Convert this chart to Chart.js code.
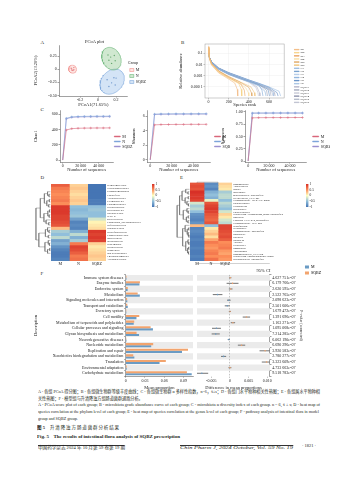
<!DOCTYPE html>
<html lang="zh"><head><meta charset="utf-8">
<script src="https://cdn.jsdelivr.net/npm/chart.js@4/dist/chart.umd.min.js"></script>
<style>
html,body{margin:0;padding:0;background:#fff}
body{width:357px;height:480px;position:relative;overflow:hidden;font-family:"Liberation Serif","Noto Sans CJK SC",serif;color:#231f20}
canvas{position:absolute}
.t{position:absolute;white-space:nowrap;line-height:1;transform-origin:0 0}
.pl{font-size:5px}
.zh{font-size:4.6px}
.en{font-size:3.9px}
.ft{font-size:4.6px;font-weight:bold}
.ff{font-size:4.4px;border-top:0.5px solid #333;padding-top:0.6px}
</style></head><body>
<div class="t pl" style="left:40.5px;top:40px">A</div>
<div class="t pl" style="left:181px;top:40px">B</div>
<div class="t pl" style="left:40.5px;top:106.5px">C</div>
<div class="t pl" style="left:40.5px;top:175px">D</div>
<div class="t pl" style="left:180px;top:175px">E</div>
<div class="t pl" style="left:40.5px;top:270.5px">F</div>

<div class="t zh fit" id="zh1" data-w="282" style="left:38px;top:390px">A - 各组 PCoA 得分图；B - 各组微生物群等级丰度曲线；C - 各组微生物群 α 多样性指数，n=6，x̄±s；D - 各组门水平物种相关性热图；E - 各组属水平物种相</div>
<div class="t zh" data-ref="zh1" style="left:38px;top:397px">关性热图；F - 模型组与升清降浊方组肠道菌群通路分析。</div>
<div class="t en fit" id="en1" data-w="282" style="left:38px;top:404.3px">A - PCoA score plot of each group; B - microbiota grade abundance curve of each group; C - microbiota α diversity index of each group. n = 6, x̄ ± s; D - heat map of</div>
<div class="t en fit" id="en2" data-w="281" style="left:38px;top:410.8px">species correlation at the phylum level of each group; E - heat map of species correlation at the genus level of each group; F - pathway analysis of intestinal flora in model</div>
<div class="t en" data-ref="en2" style="left:38px;top:417.8px">group and SQBZ group.</div>
<div class="t ft fit" id="tz" data-w="83" style="left:37px;top:426px">图 5 <span style="font-weight:normal;letter-spacing:0.9px;margin-left:4px">升清降浊方肠道菌群分析结果</span></div>
<div class="t ft fit" id="te" data-w="143" style="left:37px;top:434.8px">Fig. 5 <span style="margin-left:3px">The results of intestinal flora analysis of SQBZ prescription</span></div>
<div class="t ff fit" id="fl" data-w="87" style="left:38px;top:444.5px">中国药学杂志 2024 年 10 月第 59 卷第 19 期</div>
<div class="t ff fit" id="fr" data-w="113" style="left:180px;top:444.5px;font-style:italic">Chin Pharm J, 2024 October, Vol. 59 No. 19</div>
<div class="t" style="left:302px;top:443.5px;font-size:4.4px">· 1821 ·</div>

<script>
// ===================== DATA =====================
const groups = ['M', 'N', 'SQBZ'];

// A: PCoA sample coordinates
const aMx = [-0.30, -0.27, -0.29, -0.27, -0.295, -0.28];
const aMy = [0.02, 0.03, -0.02, -0.01, 0.005, -0.025];
const aNx = [0.11, 0.18, 0.12, 0.19, 0.15, 0.14];
const aNy = [0.27, 0.26, 0.17, 0.16, 0.11, 0.23];
const aSx = [0.10, 0.20, 0.15, 0.19, 0.12, 0.176];
const aSy = [-0.20, -0.17, -0.26, -0.30, -0.33, -0.162];
const aXTicks = [-0.2, 0, 0.2];
const aXLabels = ['-0.2', '0', '0.2'];
const aYTicks = [-0.5, -0.25, 0, 0.25];
const aYLabels = ['-0.50', '-0.25', '0', '0.25'];
const aFcrit = 5.786; // F(0.95; 2, 5) for 95% ellipse, n = 6

// B: rank abundance curves [rank, relative abundance]
const bNames = ['M1','M2','M3','M4','M5','M6','N1','N2','N3','N4','N5','N6','SQBZ1','SQBZ2','SQBZ3','SQBZ4','SQBZ5','SQBZ6'];
const bM1 = [[1,0.42],[3,0.09],[10,0.03],[30,0.009],[100,0.0018],[200,0.0005],[260,0.00022],[285,0.00006],[290,0.000015]];
const bM2 = [[1,0.35],[3,0.11],[10,0.035],[30,0.011],[100,0.0022],[200,0.0006],[300,0.0002],[325,0.00006],[330,0.000015]];
const bM3 = [[1,0.30],[3,0.10],[10,0.04],[30,0.012],[100,0.0025],[200,0.0007],[320,0.00018],[355,0.00005],[362,0.000015]];
const bM4 = [[1,0.38],[3,0.12],[10,0.032],[30,0.010],[100,0.0020],[200,0.00065],[300,0.00025],[370,0.00008],[395,0.00003],[400,0.000015]];
const bM5 = [[1,0.28],[3,0.09],[10,0.038],[30,0.013],[100,0.0028],[200,0.0008],[300,0.0003],[400,0.00009],[425,0.00003],[430,0.000015]];
const bM6 = [[1,0.33],[3,0.10],[10,0.036],[30,0.012],[100,0.0026],[200,0.00085],[300,0.00032],[420,0.0001],[455,0.00003],[460,0.000015]];
const bN1 = [[1,0.20],[3,0.08],[10,0.04],[30,0.015],[100,0.004],[200,0.0014],[300,0.0006],[400,0.00028],[500,0.00012],[560,0.00004],[570,0.000015]];
const bN2 = [[1,0.22],[3,0.09],[10,0.042],[30,0.016],[100,0.0042],[200,0.0015],[300,0.0007],[400,0.00033],[500,0.00016],[590,0.00006],[605,0.000015]];
const bN3 = [[1,0.18],[3,0.07],[10,0.038],[30,0.017],[100,0.0045],[200,0.0017],[300,0.0008],[400,0.00038],[500,0.00019],[600,0.00008],[640,0.00003],[645,0.000015]];
const bN4 = [[1,0.25],[3,0.085],[10,0.036],[30,0.014],[100,0.0038],[200,0.0013],[300,0.0006],[400,0.0003],[500,0.00014],[530,0.00005],[540,0.000015]];
const bN5 = [[1,0.19],[3,0.075],[10,0.04],[30,0.018],[100,0.005],[200,0.0019],[300,0.0009],[400,0.00042],[500,0.0002],[600,0.00009],[680,0.00003],[690,0.000015]];
const bN6 = [[1,0.21],[3,0.08],[10,0.041],[30,0.016],[100,0.0046],[200,0.0018],[300,0.00085],[400,0.0004],[500,0.00021],[600,0.0001],[700,0.00004],[715,0.000015]];
const bS1 = [[1,0.24],[3,0.09],[10,0.04],[30,0.015],[100,0.0041],[200,0.0014],[300,0.00062],[400,0.0003],[480,0.0001],[505,0.00003],[510,0.000015]];
const bS2 = [[1,0.20],[3,0.085],[10,0.043],[30,0.017],[100,0.0046],[200,0.0016],[300,0.00075],[400,0.00035],[500,0.00016],[575,0.00005],[585,0.000015]];
const bS3 = [[1,0.27],[3,0.10],[10,0.038],[30,0.014],[100,0.0037],[200,0.0013],[300,0.00058],[400,0.00026],[470,0.00009],[490,0.00003],[495,0.000015]];
const bS4 = [[1,0.19],[3,0.08],[10,0.042],[30,0.018],[100,0.0048],[200,0.0018],[300,0.00082],[400,0.00038],[500,0.00018],[600,0.00007],[655,0.00003],[660,0.000015]];
const bS5 = [[1,0.23],[3,0.09],[10,0.04],[30,0.016],[100,0.0043],[200,0.0015],[300,0.0007],[400,0.00032],[500,0.00014],[610,0.00005],[620,0.000015]];
const bS6 = [[1,0.21],[3,0.082],[10,0.041],[30,0.017],[100,0.0047],[200,0.0017],[300,0.0008],[400,0.00037],[500,0.00017],[600,0.00008],[630,0.00003],[640,0.000015]];
const bSeries = [bM1,bM2,bM3,bM4,bM5,bM6,bN1,bN2,bN3,bN4,bN5,bN6,bS1,bS2,bS3,bS4,bS5,bS6];
const bXTicks = [0, 200, 400, 600];
const bYTicks = [0.1, 0.01, 0.001, 0.0001];
const bYLabels = ['0.1', '0.01', '0.001', '0.000 1'];

// C: alpha diversity rarefaction
const cX = [0, 4000, 10000, 17000, 24000, 31000, 38000, 45000, 52000];
const chaoM = [0, 395, 412, 417, 419, 420, 421, 421, 422];
const chaoN = [0, 548, 566, 571, 573, 574, 575, 575, 576];
const chaoS = [0, 541, 560, 565, 567, 568, 569, 569, 570];
const shanM = [0, 4.82, 4.86, 4.87, 4.88, 4.88, 4.89, 4.89, 4.89];
const shanN = [0, 6.30, 6.33, 6.34, 6.35, 6.35, 6.35, 6.36, 6.36];
const shanS = [0, 6.24, 6.27, 6.28, 6.29, 6.29, 6.30, 6.30, 6.30];
const simpM = [0, 0.880, 0.884, 0.885, 0.886, 0.886, 0.886, 0.887, 0.887];
const simpN = [0, 0.978, 0.979, 0.979, 0.980, 0.980, 0.980, 0.980, 0.980];
const simpS = [0, 0.974, 0.976, 0.976, 0.977, 0.977, 0.977, 0.977, 0.977];
const cXTicks = [0, 20000, 40000];
const cXLabels = ['0', '20 000', '40 000'];

// D: phylum-level correlation heatmap
const dRows = ['Planctomycetota','Verrucomicrobiota','Gemmatimonadota','Chloroflexi','Acidobacteriota','Cyanobacteria','Elusimicrobiota','Patescibacteria','Proteobacteria','Halobacterota','WPS-2','Myxococcota','Candidatus_Saccharibacteria','Deferribacterota','Fusobacteriota','Desulfobacterota','Campylobacterota','Bacteroidota','Spirochaetota','Synergistota','Deinococcota','Firmicutes','Bdellovibrionota','Thermoplasmatota','Actinobacteriota'];
const dM = [0.75,0.6,0.55,0.5,0.55,0.6,0.5,0.95,0.95,0.95,0.9,0.9,0.85,0.8,0.3,-0.4,-0.5,-0.3,-0.7,-0.6,-0.8,-0.9,-0.95,-0.95,-0.9];
const dN = [0.2,0.25,0.2,0.15,0.2,0.25,0.2,-0.5,-0.55,-0.5,-0.45,-0.7,-0.9,-0.85,-0.9,-0.6,-0.3,-0.6,-0.4,0.6,0.9,0.85,0.75,0.6,0.65];
const dS = [-1,-1,-1,-1,-1,-0.95,-0.95,-0.5,-0.45,-0.5,-0.5,-0.2,0.05,0.1,0.15,0.95,0.9,0.95,0.9,0.2,0.1,0.15,0.2,0.25,0.2];
const dRowTree = {h:1,c:[{h:0.7,c:[
  {h:0.42,c:[{h:0.2,c:[0,{h:0.1,c:[1,2]}]},{h:0.25,c:[{h:0.08,c:[3,4]},{h:0.12,c:[5,6]}]}]},
  {h:0.45,c:[{h:0.18,c:[{h:0.06,c:[7,8]},{h:0.09,c:[9,10]}]},{h:0.3,c:[11,{h:0.12,c:[12,13]}]}]}]},
  {h:0.8,c:[
  {h:0.35,c:[{h:0.2,c:[14,{h:0.1,c:[15,16]}]},{h:0.15,c:[17,18]}]},
  {h:0.38,c:[{h:0.15,c:[19,{h:0.07,c:[20,21]}]},{h:0.2,c:[{h:0.05,c:[22,23]},24]}]}]}]};
const dColTree = {h:1,c:[{h:0.45,c:[0,1]},2]};

// E: genus-level correlation heatmap
const eRows = ['Ruminococcus','Alloprevotella','Blautia','Bacteroides','Muribaculaceae_unclassified','Prevotellaceae_UCG-001','Lachnospiraceae_NK4A136_group','Parabacteroides','Lactobacillus','Oscillibacter','Colidextribacter','Eubacterium_xylanophilum_group_unclassified','Roseburia','Clostridia_UCG-014_unclassified','Lachnospiraceae_UCG-006','Desulfovibrio','Helicobacter','Lachnospiraceae_unclassified','Odoribacter','Rikenella','Dubosiella','Alistipes','Turicibacter','Romboutsia','Akkermansia','Ruminococcaceae_UCG-014','Eubacterium_coprostanoligenes_group','Oscillospiraceae_unclassified'];
const eM = [0.8,0.85,0.8,1,0.95,0.95,0.9,-0.2,-0.4,-0.3,-0.5,-0.8,-0.85,-0.9,-0.8,0.3,-0.9,-0.85,-0.9,-0.95,-0.9,-0.95,-0.95,-0.9,-0.95,-0.95,-0.9,-0.95];
const eN = [-0.85,-0.8,-0.9,-0.6,-0.5,-0.6,-0.1,0.8,0.9,0.95,0.9,0.8,0.75,0.7,0.8,-0.5,0.1,0.2,0.3,0.15,0.4,0.6,0.5,0.45,0.55,0.6,0.5,0.65];
const eS = [0.2,0.15,0.1,-0.4,-0.3,-0.3,-0.5,-0.3,-0.4,-0.5,-0.2,0.2,0.1,-0.2,-0.3,0.9,0.9,0.85,0.8,0.85,0.75,0.5,0.55,0.6,0.45,0.4,0.5,0.45];
const eRowTree = {h:1,c:[{h:0.8,c:[
  {h:0.6,c:[{h:0.3,c:[0,{h:0.12,c:[1,2]}]},{h:0.35,c:[{h:0.1,c:[3,4]},{h:0.2,c:[5,{h:0.08,c:[6,7]}]}]}]},
  {h:0.5,c:[{h:0.2,c:[8,{h:0.1,c:[9,10]}]},{h:0.25,c:[{h:0.1,c:[11,12]},{h:0.12,c:[13,14]}]}]}]},
  {h:0.55,c:[{h:0.35,c:[15,{h:0.18,c:[{h:0.06,c:[16,17]},{h:0.1,c:[18,{h:0.05,c:[19,20]}]}]}]},
  {h:0.3,c:[{h:0.12,c:[21,{h:0.05,c:[22,23]}]},{h:0.15,c:[{h:0.06,c:[24,25]},{h:0.08,c:[26,27]}]}]}]}]};
const eColTree = {h:1,c:[0,{h:0.5,c:[1,2]}]};
const cbTicks = [1, 0.5, 0, -0.5, -1];
const cbLabels = ['1', '0.5', '0', '-0.5', '-1'];

// F: pathway analysis (M vs SQBZ)
const fGroups = ['M', 'SQBZ'];
const fRows = ['Immune system diseases','Enzyme families','Endocrine system','Metabolism','Signaling molecules and interaction','Transport and catabolism','Excretory system','Cell motility','Metabolism of terpenoids and polyketides','Cellular processes and signaling','Glycan biosynthesis and metabolism','Neurodegenerative diseases','Nucleotide metabolism','Replication and repair','Xenobiotics biodegradation and metabolism','Translation','Environmental adaptation','Carbohydrate metabolism'];
const fM = [0.0012,0.0215,0.0030,0.0220,0.0025,0.0032,0.0010,0.0168,0.0125,0.0425,0.0208,0.0012,0.0398,0.0878,0.0135,0.0528,0.0016,0.1030];
const fS = [0.0013,0.0222,0.0032,0.0187,0.0022,0.0025,0.0010,0.0212,0.0133,0.0389,0.0170,0.0009,0.0429,0.0972,0.0118,0.0626,0.0016,0.0955];
const fD = [0.0001,0.0007,0.0002,-0.0033,-0.0003,-0.0007,0.0000,0.0044,0.0008,-0.0036,-0.0038,-0.0003,0.0031,0.0094,-0.0017,0.0098,0.0000,-0.0075];
const fCi = [0.0002,0.0015,0.0004,0.0012,0.0004,0.0006,0.0002,0.0009,0.0005,0.0011,0.0010,0.0002,0.0009,0.0014,0.0006,0.0012,0.0003,0.0016];
const fP = ['4.627 751e-07','6.179 766e-07','2.620 595e-07','2.522 765e-07','2.098 623e-07','2.501 606e-07','1.679 472e-07','1.391 696e-07','1.163 271e-07','1.095 068e-07','7.214 285e-07','6.062 190e-07','6.690 296e-07','3.920 583e-07','2.780 277e-07','3.323 609e-07','4.733 663e-07','9.518 783e-07'];
const fMeanTicks = [0, 0.03, 0.06, 0.09];
const fMeanLabels = ['0', '0.03', '0.06', '0.09'];
const fDiffTicks = [-0.005, 0, 0.005, 0.01];
const fDiffLabels = ['-0.005', '0', '0.005', '0.010'];

// ===================== STYLE / HELPERS =====================
const aLine = ['#ef7f7a', '#58ad68', '#6b9bd6'];
const aFill = ['rgba(248,165,155,0.28)', 'rgba(150,205,150,0.45)', 'rgba(160,195,235,0.45)'];
const aDot = ['#df6f78', '#3d8a4e', '#4774b4'];
const bCol = ['#f2b880','#f6cf7a','#e9a35f','#f8dc9c','#dda15a','#f0c27a',
              '#8fb3dc','#6f9acb','#a9c5e6','#7ea7d6','#5e8cc4','#9cbce0',
              '#b4b4c8','#9ea3b8','#c4c6d4','#8e94ac','#aab0c2','#bcc0cf'];
const cCol = ['#d9667b', '#7ea4da', '#9c90d0'];
const fCol = ['#6a9bc4', '#f2a46e'];
const rdylbu = ['#4575b4', '#91bfdb', '#ffffbf', '#fc8d59', '#d73027'];

Chart.defaults.font.family = '"Liberation Serif", serif';
Chart.defaults.font.size = 4;
Chart.defaults.color = '#222';
Chart.defaults.animation = false;
Chart.defaults.responsive = false;
Chart.defaults.devicePixelRatio = 1;
Chart.defaults.events = [];
Chart.defaults.plugins.tooltip.enabled = false;
Chart.defaults.plugins.legend.display = false;

Chart.register({id: 'frame', afterDatasetsDraw(chart, args, opts) {
  if (!opts || !opts.color) return;
  const a = chart.chartArea, c = chart.ctx;
  c.save(); c.strokeStyle = opts.color; c.lineWidth = opts.width || 0.5;
  c.strokeRect(a.left, a.top, a.right - a.left, a.bottom - a.top); c.restore();
}});

function mk(x, y, w, h) {
  const c = document.createElement('canvas');
  c.width = Math.round(w); c.height = Math.round(h);
  c.style.left = x + 'px'; c.style.top = y + 'px';
  c.style.width = Math.round(w) + 'px'; c.style.height = Math.round(h) + 'px';
  document.body.appendChild(c);
  return c;
}
function hex(h) { return [1,3,5].map(i => parseInt(h.substr(i,2),16)); }
function corrColor(v) {
  const t = (Math.max(-1, Math.min(1, v)) + 1) / 2 * (rdylbu.length - 1);
  const i = Math.min(Math.floor(t), rdylbu.length - 2), f = t - i;
  const a = hex(rdylbu[i]), b = hex(rdylbu[i+1]);
  return 'rgb(' + a.map((x,k) => Math.round(x + (b[k]-x)*f)).join(',') + ')';
}
const fixedTicks = (vals) => (s) => { s.ticks = vals.map(v => ({value: v})); };
const tickGrid = {display: true, drawOnChartArea: false, tickLength: 1.5, tickColor: '#444', lineWidth: 0.5};
const axBorder = {color: '#444', width: 0.5};

// ===================== A: PCoA =====================
function ellipse(xs, ys, k) {
  const n = xs.length, mx = xs.reduce((a,b)=>a+b)/n, my = ys.reduce((a,b)=>a+b)/n;
  let sxx = 0, syy = 0, sxy = 0;
  for (let i = 0; i < n; i++) { const dx = xs[i]-mx, dy = ys[i]-my; sxx += dx*dx; syy += dy*dy; sxy += dx*dy; }
  sxx /= n-1; syy /= n-1; sxy /= n-1;
  const tr = sxx+syy, det = sxx*syy - sxy*sxy, disc = Math.sqrt(Math.max(0, tr*tr/4 - det));
  const l1 = tr/2 + disc, l2 = Math.max(0, tr/2 - disc);
  const ang = Math.abs(sxy) < 1e-12 ? (sxx >= syy ? 0 : Math.PI/2) : Math.atan2(l1 - sxx, sxy);
  const pts = [];
  for (let i = 0; i <= 72; i++) {
    const t = i/72*2*Math.PI, u = k*Math.sqrt(l1)*Math.cos(t), v = k*Math.sqrt(l2)*Math.sin(t);
    pts.push({x: mx + u*Math.cos(ang) - v*Math.sin(ang), y: my + u*Math.sin(ang) + v*Math.cos(ang)});
  }
  return pts;
}
(function () {
  const xs = [aMx, aNx, aSx], ys = [aMy, aNy, aSy], k = Math.sqrt(2*aFcrit);
  new Chart(mk(33, 38, 123, 70), {
    type: 'scatter',
    data: {datasets: [
      ...groups.map((g,i) => ({label: g, data: ellipse(xs[i], ys[i], k), showLine: true, fill: 'shape',
        backgroundColor: aFill[i], borderColor: aLine[i], borderWidth: 0.5, pointRadius: 0})),
      ...groups.map((g,i) => ({label: g + ' samples', data: xs[i].map((x,j) => ({x, y: ys[i][j]})),
        pointRadius: 0.7, backgroundColor: aDot[i], borderWidth: 0}))
    ]},
    options: {
      layout: {padding: 0},
      plugins: {
        title: {display: true, text: 'PCoA plot', font: {size: 4.5, weight: 'normal'}, padding: {top: 1.5, bottom: 0.1}},
        legend: {display: true, position: 'right',
          title: {display: true, text: 'Group', position: 'start', padding: 0.6, font: {size: 4}},
          labels: {boxWidth: 4, boxHeight: 3, padding: 2, font: {size: 4},
            generateLabels: () => groups.map((g,i) => ({text: g, fillStyle: aFill[i], strokeStyle: aLine[i], lineWidth: 0.5, hidden: false, datasetIndex: i}))}}
      },
      scales: {
        x: {type: 'linear', min: -0.435, max: 0.33, afterBuildTicks: fixedTicks(aXTicks),
          ticks: {callback: (v,i) => aXLabels[i], autoSkip: false, maxRotation: 0, padding: 0.5},
          grid: tickGrid, border: axBorder,
          title: {display: true, text: 'PCoA1(71.65%)', font: {size: 4.5}, padding: 0},
          afterFit: s => { s.height = 12; }},
        y: {type: 'linear', min: -0.51, max: 0.46, afterBuildTicks: fixedTicks(aYTicks),
          ticks: {callback: (v,i) => aYLabels[i], autoSkip: false, padding: 0.8},
          grid: tickGrid, border: axBorder,
          title: {display: true, text: 'PCoA2(13.26%)', font: {size: 4.5}, padding: 0},
          afterFit: s => { s.width = 26; }}
      }
    }
  });
})();

// ===================== B: rank abundance =====================
new Chart(mk(178, 38, 139, 70), {
  type: 'line',
  data: {datasets: bSeries.map((s,i) => ({label: bNames[i], data: s.map(p => ({x: p[0], y: p[1]})),
    borderColor: bCol[i], backgroundColor: bCol[i], borderWidth: 0.6, pointRadius: 0}))},
  options: {
    layout: {padding: {top: 6}},
    plugins: {
      frame: {color: '#9a9a9a', width: 0.5},
      legend: {display: true, position: 'right', labels: {boxWidth: 5, boxHeight: 0.6, padding: 0.3, font: {size: 2.8}}}
    },
    scales: {
      x: {type: 'linear', min: -35, max: 750, afterBuildTicks: fixedTicks(bXTicks),
        ticks: {autoSkip: false, maxRotation: 0, padding: 0.5, callback: v => String(v)},
        grid: {color: '#ececec', lineWidth: 0.4, tickLength: 1.5, tickColor: '#666'}, border: {display: false},
        title: {display: true, text: 'Species rank', font: {size: 4.5}, padding: 0},
        afterFit: s => { s.height = 10; }},
      y: {type: 'logarithmic', min: 1e-5, max: 0.7, afterBuildTicks: fixedTicks(bYTicks),
        ticks: {autoSkip: false, padding: 0.8, callback: (v,i) => bYLabels[i]},
        grid: {color: '#ececec', lineWidth: 0.4, tickLength: 1.5, tickColor: '#666'}, border: {display: false},
        title: {display: true, text: 'Relative abundance', font: {size: 4.5}, padding: 0},
        afterFit: s => { s.width = 27; }},
      yPad: {type: 'linear', axis: 'y', position: 'right', ticks: {display: false}, grid: {display: false, drawTicks: false},
        border: {display: false}, afterFit: s => { s.width = 9.7; }}
    }
  }
});

// ===================== C: alpha diversity =====================
function cChart(x, w, yW, spacer, yTitle, yMin, yMax, yTicks, yLabels, series) {
  const scales = {
    x: {type: 'linear', min: -3000, max: 56000, afterBuildTicks: fixedTicks(cXTicks),
      ticks: {callback: (v,i) => cXLabels[i], autoSkip: false, maxRotation: 0, padding: 0.5},
      grid: tickGrid, border: axBorder,
      title: {display: true, text: 'Number of sequences', font: {size: 4.5}, padding: 0},
      afterFit: s => { s.height = 11; }},
    y: {type: 'linear', min: yMin, max: yMax, afterBuildTicks: fixedTicks(yTicks),
      ticks: {callback: (v,i) => yLabels[i], autoSkip: false, padding: 0.8},
      grid: tickGrid, border: axBorder,
      title: {display: true, text: yTitle, font: {size: 4.5}, padding: 0},
      afterFit: s => { s.width = yW; }}
  };
  if (spacer > 0) scales.yPad = {type: 'linear', axis: 'y', position: 'right', ticks: {display: false},
    grid: {display: false, drawTicks: false}, border: {display: false}, afterFit: s => { s.width = spacer; }};
  new Chart(mk(x, 106, w, 67), {
    type: 'line',
    data: {datasets: groups.map((g,i) => ({label: g, data: cX.map((xx,j) => ({x: xx, y: series[i][j]})),
      borderColor: cCol[i], backgroundColor: cCol[i], borderWidth: 0.6, pointStyle: 'cross',
      pointRadius: c => c.dataIndex === 0 ? 0 : 1.3, pointBorderWidth: 0.5, pointBorderColor: cCol[i]}))},
    options: {
      layout: {padding: {top: 4}},
      plugins: {legend: {display: true, position: 'right', labels: {boxWidth: 6, boxHeight: 0.8, padding: 1, font: {size: 4}}}},
      scales
    }
  });
}
cChart(33, 107, 27, 0, 'Chao1', -25, 650, [0,200,400,600], ['0','200','400','600'], [chaoM, chaoN, chaoS]);
cChart(131, 99, 16, 3, 'Shannon', -0.3, 6.8, [0,2,4,6], ['0','2','4','6'], [shanM, shanN, shanS]);
cChart(220, 110, 25, 5, 'Simpson', -0.02, 1.03, [0,0.25,0.5,0.75,1], ['0','0.25','0.50','0.75','1.00'], [simpM, simpN, simpS]);

// ===================== D / E: heatmaps =====================
function dendroSegs(tree, map) {
  const out = [];
  const walk = n => {
    if (typeof n === 'number') return {p: n + 0.5, h: 0};
    const k = n.c.map(walk);
    k.forEach(c => { out.push(map(c.p, c.h), map(c.p, n.h), {x: NaN, y: NaN}); });
    out.push(map(k[0].p, n.h), map(k[k.length-1].p, n.h), {x: NaN, y: NaN});
    return {p: (k[0].p + k[k.length-1].p) / 2, h: n.h};
  };
  walk(tree);
  return out;
}
function heatmap(o) {
  const segL = dendroSegs(o.rowTree, (p,h) => ({x: -(o.denX[0] + o.denX[1]*h), y: p}));
  const segT = dendroSegs(o.colTree, (p,h) => ({x: p, y: -(o.denY[0] + o.denY[1]*h)}));
  const den = d => ({type: 'scatter', indexAxis: 'x', data: d, showLine: true, borderColor: '#555', borderWidth: 0.4,
    pointRadius: 0, clip: false, xAxisID: 'x', yAxisID: 'yDen'});
  new Chart(mk(o.box[0], o.box[1], o.box[2], o.box[3]), {
    type: 'bar',
    data: {labels: o.rows, datasets: [
      ...groups.map((g,j) => ({label: g, data: o.rows.map(() => [j, j+1]), backgroundColor: o.vals[j].map(corrColor),
        grouped: false, barPercentage: 1, categoryPercentage: 1, borderWidth: 0, xAxisID: 'x', yAxisID: 'y'})),
      den(segL), den(segT)
    ]},
    options: {
      indexAxis: 'y',
      layout: {padding: {left: o.pad[0], top: o.pad[1], right: 0, bottom: 0}},
      scales: {
        x: {type: 'linear', min: 0, max: 3, afterBuildTicks: fixedTicks([0.5, 1.5, 2.5]),
          ticks: {callback: (v,i) => groups[i], autoSkip: false, maxRotation: 0, padding: 1, font: {size: 4}},
          grid: {display: false, drawTicks: false}, border: {display: false}, afterFit: s => { s.height = 7; }},
        y: {type: 'category', position: 'right', ticks: {autoSkip: false, padding: 1, font: {size: o.font}},
          grid: {display: false, drawTicks: false}, border: {display: false}, afterFit: s => { s.width = o.yW; }},
        yDen: {type: 'linear', axis: 'y', display: false, min: 0, max: o.rows.length, reverse: true}
      }
    }
  });
}
function colorbar(x, y) {
  new Chart(mk(x, y, 20, 29), {
    type: 'bar',
    data: {labels: [''], datasets: [{data: [[-1, 1]], barPercentage: 1, categoryPercentage: 1, borderWidth: 0,
      backgroundColor: c => {
        const a = c.chart.chartArea; if (!a) return '#fff';
        const g = c.chart.ctx.createLinearGradient(0, a.bottom, 0, a.top);
        rdylbu.forEach((col,i) => g.addColorStop(i/(rdylbu.length-1), col));
        return g;
      }}]},
    options: {
      layout: {padding: {left: 2, top: 3, bottom: 3, right: 0}},
      scales: {
        x: {display: false},
        y: {type: 'linear', position: 'right', min: -1, max: 1, afterBuildTicks: fixedTicks(cbTicks),
          ticks: {callback: (v,i) => cbLabels[i], autoSkip: false, padding: 1, font: {size: 3.5}},
          grid: {display: false, drawTicks: false}, border: {display: false}, afterFit: s => { s.width = 15.5; }}
      }
    }
  });
}
heatmap({box: [33, 175, 140, 93], pad: [18, 9], yW: 67, rows: dRows, vals: [dM, dN, dS], rowTree: dRowTree, colTree: dColTree,
  denX: [0.03, 0.79], denY: [0.1, 2.15], font: 2.9});
heatmap({box: [175, 175, 160, 93], pad: [15, 7.5], yW: 103, rows: eRows, vals: [eM, eN, eS], rowTree: eRowTree, colTree: eColTree,
  denX: [0.04, 0.88], denY: [0.1, 2.35], font: 2.6});
colorbar(150, 181);
colorbar(304, 180.5);

// ===================== F: pathway analysis =====================
const fBandL = fRows.map((r,i) => i % 2 === 0 ? [0, 0.105] : null);
new Chart(mk(33, 263, 162, 128), {
  type: 'bar',
  data: {labels: fRows, datasets: [
    {label: 'band', data: fBandL, backgroundColor: '#ebebeb', grouped: false, barPercentage: 1, categoryPercentage: 1, order: 5},
    {label: 'SQBZ', data: fS, backgroundColor: fCol[1], barPercentage: 1, categoryPercentage: 0.74, order: 1},
    {label: 'M', data: fM, backgroundColor: fCol[0], barPercentage: 1, categoryPercentage: 0.74, order: 1}
  ]},
  options: {
    indexAxis: 'y',
    layout: {padding: {top: 11.9, right: 2, left: 0, bottom: 0}},
    scales: {
      x: {type: 'linear', min: 0, max: 0.105, afterBuildTicks: fixedTicks(fMeanTicks),
        ticks: {callback: (v,i) => fMeanLabels[i], autoSkip: false, maxRotation: 0, padding: 0.5},
        grid: tickGrid, border: axBorder,
        title: {display: true, text: 'Mean proportion', font: {size: 4.5}, padding: 0},
        afterFit: s => { s.height = 14.9; }},
      y: {type: 'category', ticks: {autoSkip: false, padding: 0.8, font: {size: 4}},
        grid: tickGrid, border: axBorder,
        title: {display: true, text: 'Description', font: {size: 4.5}, padding: 0},
        afterFit: s => { s.width = 92.7; }}
    }
  }
});
const fBandR = fRows.map((r,i) => i % 2 === 0 ? [-0.0088, 0.0107] : null);
new Chart(mk(193, 263, 164, 128), {
  type: 'bar',
  data: {labels: fP, datasets: [
    {type: 'scatter', indexAxis: 'x', label: 'diff', data: fD.map((d,i) => ({x: d, y: i})), pointRadius: 0.8,
      backgroundColor: fD.map(d => d >= 0 ? fCol[1] : fCol[0]), borderWidth: 0, order: 0},
    {label: 'ci', data: fD.map((d,i) => [d - fCi[i], d + fCi[i]]), backgroundColor: '#7a7a7a', grouped: false, barThickness: 0.4, order: 1},
    {label: 'band', data: fBandR, backgroundColor: '#ebebeb', grouped: false, barPercentage: 1, categoryPercentage: 1, order: 5}
  ]},
  options: {
    indexAxis: 'y',
    layout: {padding: {left: 2.7, right: 25.8, top: 0, bottom: 0}},
    plugins: {
      title: {display: true, text: '95% CI', font: {size: 4.5, weight: 'normal'}, padding: {top: 5.3, bottom: 1.2}},
      legend: {display: true, position: 'right', align: 'start',
        labels: {boxWidth: 4, boxHeight: 3, padding: 2, font: {size: 4},
          generateLabels: () => fGroups.map((g,i) => ({text: g, fillStyle: fCol[i], strokeStyle: fCol[i], lineWidth: 0, hidden: false, datasetIndex: i}))}}
    },
    scales: {
      x: {type: 'linear', min: -0.0088, max: 0.0107, afterBuildTicks: fixedTicks(fDiffTicks),
        ticks: {callback: (v,i) => fDiffLabels[i], autoSkip: false, maxRotation: 0, padding: 0.5},
        grid: {z: 1, drawOnChartArea: true, color: c => (c.tick && c.tick.value === 0) ? '#8a8a8a' : 'rgba(0,0,0,0)',
          lineWidth: 0.5, tickLength: 1.5, tickColor: '#444'},
        border: {color: '#444', width: 0.5, dash: [1.5, 1.5]},
        title: {display: true, text: 'Difference in mean proportions', font: {size: 4.5}, padding: 0},
        afterFit: s => { s.height = 14.9; }},
      y: {type: 'category', position: 'right', ticks: {autoSkip: false, padding: 0.8, font: {size: 4}},
        grid: tickGrid, border: axBorder,
        title: {display: true, text: 'P-value (corrected)', font: {size: 4}, padding: 0},
        afterFit: s => { s.width = 33; }}
    }
  }
});

// ===================== caption fitting =====================
const scales = {};
document.querySelectorAll('.fit').forEach(el => {
  const s = (+el.dataset.w) / el.getBoundingClientRect().width;
  scales[el.id] = s; el.style.transform = 'scaleX(' + s + ')';
});
document.querySelectorAll('[data-ref]').forEach(el => {
  el.style.transform = 'scaleX(' + scales[el.dataset.ref] + ')';
});
</script>
</body></html>
